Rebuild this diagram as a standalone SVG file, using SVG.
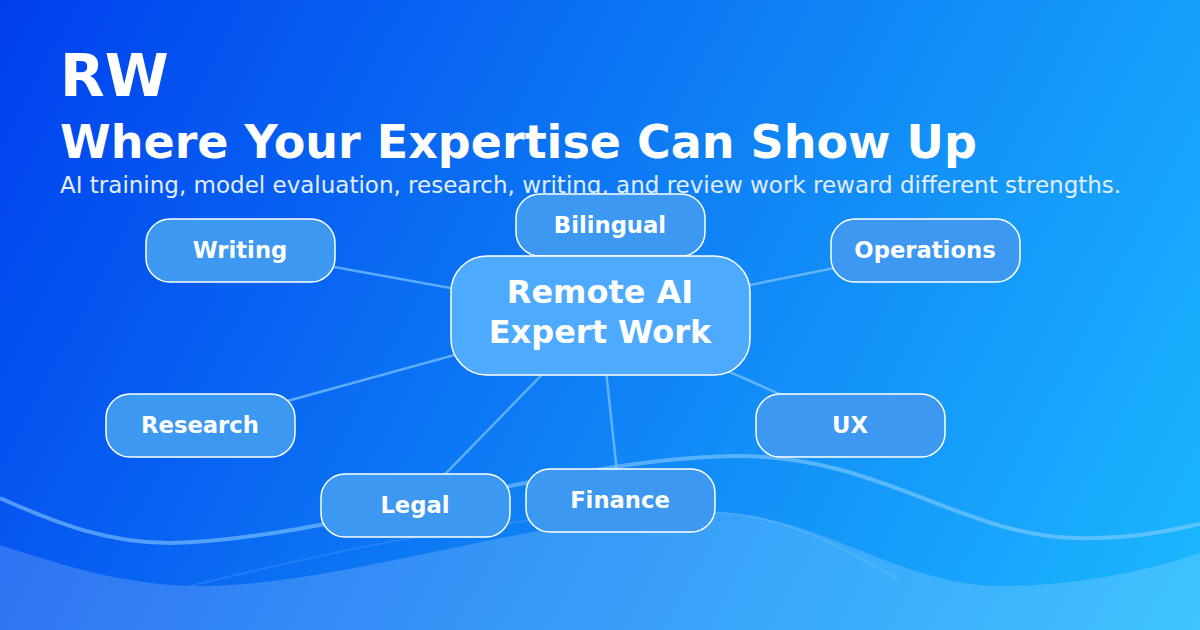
<svg xmlns="http://www.w3.org/2000/svg" width="1200" height="630" viewBox="0 0 1200 630">
<defs>
<linearGradient id="bg" x1="0" y1="0" x2="1200" y2="630" gradientUnits="userSpaceOnUse">
<stop offset="0" stop-color="#003fee"/>
<stop offset="0.5" stop-color="#0e7ef5"/>
<stop offset="1" stop-color="#1cb8ff"/>
</linearGradient>
<linearGradient id="wf" x1="0" y1="0" x2="1200" y2="0" gradientUnits="userSpaceOnUse">
<stop offset="0" stop-color="#ffffff" stop-opacity="0.17"/>
<stop offset="1" stop-color="#ffffff" stop-opacity="0.16"/>
</linearGradient>
<style>
.node rect{fill:#3d98f2;stroke:#ffffff;stroke-width:1.5}
.node text{font-family:"DejaVu Sans",sans-serif;font-weight:bold;font-size:22.7px;fill:#ffffff;text-anchor:middle}
#center rect{fill:#4eaaff}
#center text{font-size:32px}
.conn line{stroke:#7cc0ff;stroke-opacity:0.75;stroke-width:2.5}
</style>
</defs>
<rect width="1200" height="630" fill="url(#bg)"/>
<path d="M0,545 C70,568 130,586 200,586 C350,586 550,510 715,512 C820,515 900,586 1000,586 C1080,586 1150,570 1200,553 L1200,630 L0,630 Z" fill="url(#wf)"/>
<path d="M190,586 C330,552 520,508 700,511 C790,514 840,548 897,578" fill="none" stroke="#ffffff" stroke-opacity="0.1" stroke-width="2"/>
<path d="M0,498 C60,525 110,543 170,543 C330,540 560,458 735,456 C880,455 960,535 1075,538 C1130,540 1170,530 1200,524" fill="none" stroke="#8fd0ff" stroke-opacity="0.55" stroke-width="4"/>
<g font-family="DejaVu Sans, sans-serif" fill="#ffffff">
<text x="60" y="96" font-size="58" font-weight="bold">RW</text>
<text x="60" y="158" font-size="46" font-weight="bold">Where Your Expertise Can Show Up</text>
<text x="60" y="193" font-size="23" fill="#e2eeff">AI training, model evaluation, research, writing, and review work reward different strengths.</text>
</g>
<g class="conn" id="connectors">
<line x1="600" y1="315" x2="240" y2="250"/>
<line x1="600" y1="315" x2="200" y2="425"/>
<line x1="600" y1="315" x2="415" y2="505"/>
<line x1="600" y1="315" x2="620" y2="500"/>
<line x1="600" y1="315" x2="850" y2="425"/>
<line x1="600" y1="315" x2="925" y2="250"/>
<line x1="600" y1="315" x2="610" y2="225"/>
</g>
<g class="node" id="writing"><rect x="146" y="219" width="189" height="63" rx="24"/><text x="240" y="258">Writing</text></g>
<g class="node" id="research"><rect x="106" y="394" width="189" height="63" rx="24"/><text x="200" y="433">Research</text></g>
<g class="node" id="bilingual"><rect x="516" y="194" width="189" height="62" rx="24"/><text x="610" y="233">Bilingual</text></g>
<g class="node" id="operations"><rect x="831" y="219" width="189" height="63" rx="24"/><text x="925" y="258">Operations</text></g>
<g class="node" id="ux"><rect x="756" y="394" width="189" height="63" rx="24"/><text x="850" y="433">UX</text></g>
<g class="node" id="legal"><rect x="321" y="474" width="189" height="63" rx="24"/><text x="415" y="513">Legal</text></g>
<g class="node" id="finance"><rect x="526" y="469" width="189" height="63" rx="24"/><text x="620" y="508">Finance</text></g>
<g class="node" id="center"><rect x="451" y="256" width="299" height="119" rx="36"/><text x="600" y="303">Remote AI</text><text x="600" y="343">Expert Work</text></g>
</svg>
